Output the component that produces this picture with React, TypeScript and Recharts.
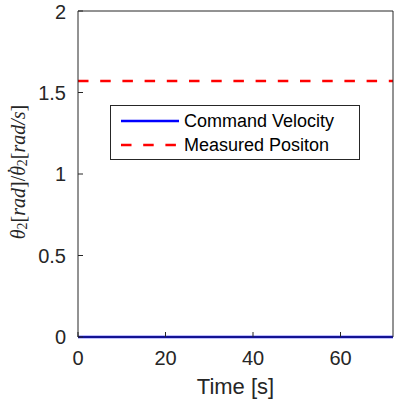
import React from 'react';
import { LineChart, Line, XAxis, YAxis, Legend } from 'recharts';

const time = [0, 72];
const commandVelocity = [0, 0];
const measuredPosition = [1.5708, 1.5708];
const xTicks = [0, 20, 40, 60];
const yTicks = [0, 0.5, 1, 1.5, 2];
const seriesNames = ['Command Velocity', 'Measured Positon'];

const data = time.map((t, i) => ({ t, cmd: commandVelocity[i], meas: measuredPosition[i] }));

const AX = '#262626';
const SANS = '"Liberation Sans", Arial, Helvetica, sans-serif';
const SERIF = '"Liberation Serif", "Times New Roman", serif';
const DASH = '10.5 11.7';

const YLabel = (props: any) => {
  const vb = props.viewBox || {};
  const cx = (vb.x || 0) + 18;
  const cy = 172;
  return (
    <text
      x={cx}
      y={cy}
      transform={`rotate(-90, ${cx}, ${cy})`}
      textAnchor="middle"
      dominantBaseline="central"
      fill={AX}
      fontFamily={SERIF}
      fontSize={20}
    >
      <tspan fontStyle="italic">θ</tspan>
      <tspan fontSize={14} dy={4}>2</tspan>
      <tspan dy={-4}>[</tspan>
      <tspan fontStyle="italic">rad</tspan>
      <tspan>]/</tspan>
      <tspan fontStyle="italic">θ</tspan>
      <tspan dx={-8} dy={-3}>˙</tspan>
      <tspan fontSize={14} dx={1} dy={7}>2</tspan>
      <tspan dy={-4}>[</tspan>
      <tspan fontStyle="italic">rad/s</tspan>
      <tspan>]</tspan>
    </text>
  );
};

const LegendBox = (props: any) => {
  const payload = props.payload || [];
  return (
    <div
      style={{
        border: '1px solid #262626',
        background: '#fff',
        padding: '2.5px 25px 2.5px 10px',
        fontFamily: SANS,
        fontSize: 18,
        color: '#000',
        lineHeight: '24px',
      }}
    >
      {payload.map((p: any) => (
        <div key={p.value} style={{ display: 'flex', alignItems: 'center', whiteSpace: 'nowrap', height: 24 }}>
          <svg width={58} height={10} style={{ marginRight: 5, flex: 'none' }}>
            <line
              x1={0}
              y1={5}
              x2={58}
              y2={5}
              stroke={p.color}
              strokeWidth={2.5}
              strokeDasharray={p.payload && p.payload.strokeDasharray}
            />
          </svg>
          <span>{p.value}</span>
        </div>
      ))}
    </div>
  );
};

export default function App() {
  return (
    <div style={{ position: 'absolute', left: 0, top: 0, width: 399, height: 402, background: '#fff' }}>
      <LineChart width={399} height={402} data={data} margin={{ top: 10, right: 5, bottom: 0, left: 0 }}>
        <XAxis
          dataKey="t"
          type="number"
          domain={[0, 72]}
          ticks={xTicks}
          height={65}
          tickSize={-5}
          tickMargin={19}
          stroke={AX}
          tick={{ fill: AX, fontSize: 20, fontFamily: SANS }}
          label={{ value: 'Time [s]', position: 'insideBottom', offset: 8, fill: AX, fontSize: 22, fontFamily: SANS }}
        />
        <XAxis
          xAxisId="top"
          dataKey="t"
          type="number"
          orientation="top"
          domain={[0, 72]}
          ticks={xTicks}
          height={1}
          tickSize={-5}
          tick={false}
          stroke={AX}
        />
        <YAxis
          type="number"
          domain={[0, 2]}
          ticks={yTicks}
          width={78}
          tickSize={-5}
          tickMargin={17}
          stroke={AX}
          tick={{ fill: AX, fontSize: 20, fontFamily: SANS }}
          label={YLabel}
        />
        <YAxis
          yAxisId="right"
          type="number"
          orientation="right"
          domain={[0, 2]}
          ticks={yTicks}
          width={1}
          tickSize={-5}
          tick={false}
          stroke={AX}
        />
        <Legend
          layout="vertical"
          verticalAlign="middle"
          align="center"
          content={<LegendBox />}
          wrapperStyle={{ left: 110, top: 105, width: 'auto' }}
        />
        <Line
          name={seriesNames[0]}
          dataKey="cmd"
          stroke="#0000ff"
          strokeWidth={2.5}
          dot={false}
          isAnimationActive={false}
        />
        <Line
          name={seriesNames[1]}
          dataKey="meas"
          stroke="#ff0000"
          strokeWidth={2.5}
          strokeDasharray={DASH}
          dot={false}
          isAnimationActive={false}
        />
      </LineChart>
    </div>
  );
}
